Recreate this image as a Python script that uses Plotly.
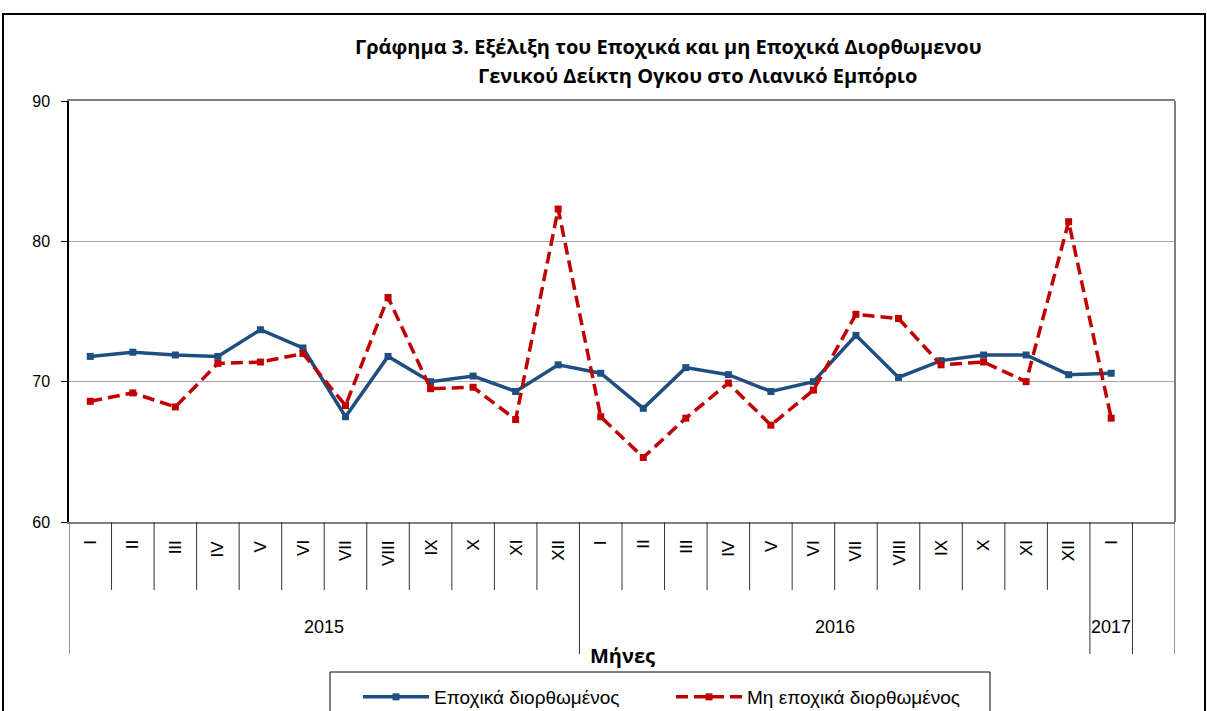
import plotly.graph_objects as go

months = ["I", "II", "III", "IV", "V", "VI", "VII", "VIII", "IX", "X", "XI", "XII"]
years = ["2015"] * 12 + ["2016"] * 12 + ["2017"]
month_labels = months + months + ["I"]

seasonal = [71.8, 72.1, 71.9, 71.8, 73.7, 72.4, 67.5, 71.8, 70.0, 70.4, 69.3, 71.2,
            70.6, 68.1, 71.0, 70.5, 69.3, 70.0, 73.3, 70.3, 71.5, 71.9, 71.9, 70.5,
            70.6]
non_seasonal = [68.6, 69.2, 68.2, 71.3, 71.4, 72.0, 68.3, 76.0, 69.5, 69.6, 67.3, 82.3,
                67.5, 64.6, 67.4, 69.9, 66.9, 69.4, 74.8, 74.5, 71.2, 71.4, 70.0, 81.4,
                67.4]

n_slots = 26
xpos = [i + 0.5 for i in range(len(month_labels))]

W, H = 1207, 711
PL, PR, PT, PB = 69, 1175, 101, 522  # plot area in page pixels
L, T = PL, PT
R, B = W - PR, H - PB
pw, ph = PR - PL, PB - PT

def py(pix):  # page pixel y -> paper y
    return (PB - pix) / ph

def px(pix):  # page pixel x -> paper x
    return (pix - PL) / pw

fig = go.Figure()
fig.add_trace(go.Scatter(
    x=xpos, y=seasonal, mode="lines+markers", name="Εποχικά διορθωμένος",
    line=dict(color="#1F4E80", width=3.5),
    marker=dict(symbol="square", size=7, color="#1F4E80")))
fig.add_trace(go.Scatter(
    x=xpos, y=non_seasonal, mode="lines+markers", name="Μη εποχικά διορθωμένος",
    line=dict(color="#C00000", width=3.5, dash="12px,6px"),
    marker=dict(symbol="square", size=7, color="#C00000")))

shapes = []
for k in range(n_slots + 1):
    long = k in (0, 12, 24, 25, 26)
    shapes.append(dict(type="line", xref="x", yref="paper", x0=k, x1=k,
                       y0=0, y1=py(654) if long else py(590),
                       line=dict(color="#333333", width=1)))
shapes.append(dict(type="line", xref="paper", yref="paper", x0=1, x1=1, y0=0, y1=1,
                   line=dict(color="#7f7f7f", width=2)))
# outer frame
shapes.append(dict(type="rect", xref="paper", yref="paper",
                   x0=px(3), x1=px(1205), y0=py(14), y1=py(730),
                   line=dict(color="black", width=2)))
# legend frame
shapes.append(dict(type="rect", xref="paper", yref="paper",
                   x0=px(330), x1=px(990), y0=py(672), y1=py(730),
                   line=dict(color="black", width=1)))

annotations = []
for i, m in enumerate(month_labels):
    annotations.append(dict(x=xpos[i], xref="x", y=py(538), yref="paper",
                            text=m, textangle=-90, showarrow=False,
                            yanchor="top", xanchor="center",
                            font=dict(size=17, color="black", family="Liberation Sans")))
year_groups = {}
for i, yv in enumerate(years):
    year_groups.setdefault(yv, []).append(i)
for yv, idx in year_groups.items():
    annotations.append(dict(x=(idx[0] + idx[-1] + 1) / 2, xref="x", y=py(627), yref="paper",
                            text=yv, showarrow=False, yanchor="middle",
                            font=dict(size=18, color="black", family="Liberation Sans")))
annotations.append(dict(x=0.5, xref="paper", y=py(655), yref="paper", text="<b>Μήνες</b>",
                        showarrow=False, yanchor="middle",
                        font=dict(size=20, color="black", family="Open Sans")))
annotations.append(dict(x=px(668), xref="paper", y=py(46), yref="paper",
                        text="<b>Γράφημα 3. Εξέλιξη του Εποχικά και μη Εποχικά Διορθωμενου</b>",
                        showarrow=False, yanchor="middle", xanchor="center",
                        font=dict(size=20, color="black", family="Open Sans")))
annotations.append(dict(x=px(697), xref="paper", y=py(75), yref="paper",
                        text="<b>Γενικού Δείκτη Ογκου στο Λιανικό Εμπόριο</b>",
                        showarrow=False, yanchor="middle", xanchor="center",
                        font=dict(size=20, color="black", family="Open Sans")))

fig.update_layout(
    width=W, height=H, margin=dict(l=L, r=R, t=T, b=B, autoexpand=False),
    paper_bgcolor="white", plot_bgcolor="white",
    shapes=shapes, annotations=annotations,
    showlegend=True,
    legend=dict(orientation="h", x=px(358), xanchor="left", y=py(678), yanchor="top",
                borderwidth=0, bgcolor="rgba(0,0,0,0)",
                entrywidth=232, itemwidth=66,
                font=dict(size=19, color="black", family="Liberation Sans")),
    xaxis=dict(range=[0, n_slots], showticklabels=False, showgrid=False, zeroline=False,
               showline=True, linecolor="#7f7f7f", linewidth=2, mirror=True, ticks=""),
    yaxis=dict(range=[60, 90], dtick=10, tick0=60, showgrid=True, gridcolor="#a6a6a6",
               gridwidth=1, zeroline=False, showline=True, linecolor="black", linewidth=1.5,
               ticks="outside", ticklen=6, tickcolor="black", ticklabelstandoff=8,
               tickfont=dict(size=16, color="black", family="Liberation Sans")),
)

fig.write_html("out.html", config={"displayModeBar": False},
               post_script="document.body.style.margin='0';document.body.style.overflow='hidden';")
